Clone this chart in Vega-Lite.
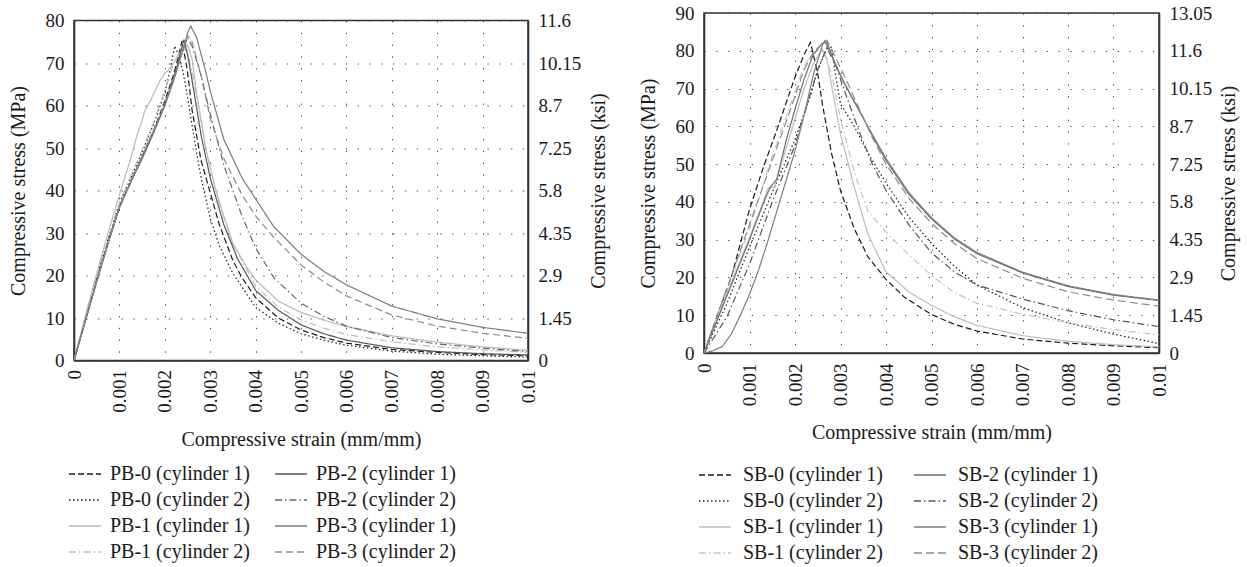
{
  "$schema": "https://vega.github.io/schema/vega-lite/v6.json",
  "background": "white",
  "padding": {"left": 7, "top": 3, "right": 2, "bottom": 2},
  "config": {
    "font": "Liberation Serif",
    "view": {"stroke": "#333333", "strokeWidth": 1.5},
    "axis": {
      "labelFont": "Liberation Serif", "titleFont": "Liberation Serif",
      "labelFontSize": 19, "titleFontSize": 20, "titleFontWeight": "normal",
      "labelColor": "#1a1a1a", "titleColor": "#1a1a1a",
      "domainColor": "#333333", "domainWidth": 1.6, "ticks": false,
      "gridColor": "#444444", "gridDash": [1.3, 10.5], "gridWidth": 1, "gridOpacity": 1,
      "labelPadding": 10
    },
    "legend": {
      "labelFont": "Liberation Serif", "labelFontSize": 20, "labelColor": "#1a1a1a", "labelLimit": 400
    }
  },
  "spacing": 27,
  "resolve": {"scale": {"color": "independent", "strokeDash": "independent"}, "legend": {"color": "independent", "strokeDash": "independent"}},
  "datasets": {
    "pb": [
      {"series":"PB-0 (cylinder 1)","strain":0,"stress":0},{"series":"PB-0 (cylinder 1)","strain":0.00025,"stress":9.5},{"series":"PB-0 (cylinder 1)","strain":0.0005,"stress":19},{"series":"PB-0 (cylinder 1)","strain":0.00075,"stress":28},{"series":"PB-0 (cylinder 1)","strain":0.001,"stress":36},{"series":"PB-0 (cylinder 1)","strain":0.00125,"stress":42},{"series":"PB-0 (cylinder 1)","strain":0.0015,"stress":48},{"series":"PB-0 (cylinder 1)","strain":0.00175,"stress":54},{"series":"PB-0 (cylinder 1)","strain":0.002,"stress":61},{"series":"PB-0 (cylinder 1)","strain":0.0022,"stress":67.5},{"series":"PB-0 (cylinder 1)","strain":0.0023,"stress":71.5},{"series":"PB-0 (cylinder 1)","strain":0.00238,"stress":75.2},{"series":"PB-0 (cylinder 1)","strain":0.0025,"stress":68},{"series":"PB-0 (cylinder 1)","strain":0.0026,"stress":59},{"series":"PB-0 (cylinder 1)","strain":0.0028,"stress":47},{"series":"PB-0 (cylinder 1)","strain":0.003,"stress":39.5},{"series":"PB-0 (cylinder 1)","strain":0.0032,"stress":32},{"series":"PB-0 (cylinder 1)","strain":0.0035,"stress":23.5},{"series":"PB-0 (cylinder 1)","strain":0.0037,"stress":19.5},{"series":"PB-0 (cylinder 1)","strain":0.004,"stress":14.8},{"series":"PB-0 (cylinder 1)","strain":0.0045,"stress":10},{"series":"PB-0 (cylinder 1)","strain":0.005,"stress":7.2},{"series":"PB-0 (cylinder 1)","strain":0.0055,"stress":5.4},{"series":"PB-0 (cylinder 1)","strain":0.006,"stress":4.1},{"series":"PB-0 (cylinder 1)","strain":0.007,"stress":2.6},{"series":"PB-0 (cylinder 1)","strain":0.008,"stress":1.9},{"series":"PB-0 (cylinder 1)","strain":0.009,"stress":1.4},{"series":"PB-0 (cylinder 1)","strain":0.01,"stress":1.1},
      {"series":"PB-0 (cylinder 2)","strain":0,"stress":0},{"series":"PB-0 (cylinder 2)","strain":0.00025,"stress":9.8},{"series":"PB-0 (cylinder 2)","strain":0.0005,"stress":19.5},{"series":"PB-0 (cylinder 2)","strain":0.00075,"stress":28.5},{"series":"PB-0 (cylinder 2)","strain":0.001,"stress":37},{"series":"PB-0 (cylinder 2)","strain":0.00125,"stress":43},{"series":"PB-0 (cylinder 2)","strain":0.0015,"stress":49},{"series":"PB-0 (cylinder 2)","strain":0.00175,"stress":55.5},{"series":"PB-0 (cylinder 2)","strain":0.002,"stress":63},{"series":"PB-0 (cylinder 2)","strain":0.0021,"stress":67.5},{"series":"PB-0 (cylinder 2)","strain":0.00222,"stress":74},{"series":"PB-0 (cylinder 2)","strain":0.0023,"stress":72},{"series":"PB-0 (cylinder 2)","strain":0.0024,"stress":68},{"series":"PB-0 (cylinder 2)","strain":0.0025,"stress":62},{"series":"PB-0 (cylinder 2)","strain":0.0027,"stress":49},{"series":"PB-0 (cylinder 2)","strain":0.0028,"stress":43},{"series":"PB-0 (cylinder 2)","strain":0.003,"stress":33.5},{"series":"PB-0 (cylinder 2)","strain":0.0032,"stress":27},{"series":"PB-0 (cylinder 2)","strain":0.0035,"stress":20.5},{"series":"PB-0 (cylinder 2)","strain":0.004,"stress":12.5},{"series":"PB-0 (cylinder 2)","strain":0.0045,"stress":8.8},{"series":"PB-0 (cylinder 2)","strain":0.005,"stress":6.3},{"series":"PB-0 (cylinder 2)","strain":0.0055,"stress":4.8},{"series":"PB-0 (cylinder 2)","strain":0.006,"stress":3.6},{"series":"PB-0 (cylinder 2)","strain":0.007,"stress":2.2},{"series":"PB-0 (cylinder 2)","strain":0.008,"stress":1.5},{"series":"PB-0 (cylinder 2)","strain":0.009,"stress":1.1},{"series":"PB-0 (cylinder 2)","strain":0.01,"stress":0.8},
      {"series":"PB-1 (cylinder 1)","strain":0,"stress":0},{"series":"PB-1 (cylinder 1)","strain":0.00025,"stress":10.5},{"series":"PB-1 (cylinder 1)","strain":0.0005,"stress":20.5},{"series":"PB-1 (cylinder 1)","strain":0.00075,"stress":30},{"series":"PB-1 (cylinder 1)","strain":0.001,"stress":39},{"series":"PB-1 (cylinder 1)","strain":0.00125,"stress":47.5},{"series":"PB-1 (cylinder 1)","strain":0.0014,"stress":53.5},{"series":"PB-1 (cylinder 1)","strain":0.0015,"stress":56.5},{"series":"PB-1 (cylinder 1)","strain":0.00155,"stress":58.5},{"series":"PB-1 (cylinder 1)","strain":0.0017,"stress":61.5},{"series":"PB-1 (cylinder 1)","strain":0.0019,"stress":66},{"series":"PB-1 (cylinder 1)","strain":0.002,"stress":67.6},{"series":"PB-1 (cylinder 1)","strain":0.0021,"stress":68.5},{"series":"PB-1 (cylinder 1)","strain":0.0022,"stress":70.2},{"series":"PB-1 (cylinder 1)","strain":0.0024,"stress":73.5},{"series":"PB-1 (cylinder 1)","strain":0.0025,"stress":74.3},{"series":"PB-1 (cylinder 1)","strain":0.0026,"stress":71},{"series":"PB-1 (cylinder 1)","strain":0.0027,"stress":63},{"series":"PB-1 (cylinder 1)","strain":0.0029,"stress":50},{"series":"PB-1 (cylinder 1)","strain":0.0031,"stress":41},{"series":"PB-1 (cylinder 1)","strain":0.0033,"stress":34},{"series":"PB-1 (cylinder 1)","strain":0.0035,"stress":27.5},{"series":"PB-1 (cylinder 1)","strain":0.0038,"stress":22},{"series":"PB-1 (cylinder 1)","strain":0.004,"stress":19},{"series":"PB-1 (cylinder 1)","strain":0.0045,"stress":14},{"series":"PB-1 (cylinder 1)","strain":0.005,"stress":11.3},{"series":"PB-1 (cylinder 1)","strain":0.0055,"stress":9.5},{"series":"PB-1 (cylinder 1)","strain":0.006,"stress":8},{"series":"PB-1 (cylinder 1)","strain":0.007,"stress":5.8},{"series":"PB-1 (cylinder 1)","strain":0.008,"stress":4.3},{"series":"PB-1 (cylinder 1)","strain":0.009,"stress":3.2},{"series":"PB-1 (cylinder 1)","strain":0.01,"stress":2.4},
      {"series":"PB-1 (cylinder 2)","strain":0,"stress":0},{"series":"PB-1 (cylinder 2)","strain":0.00025,"stress":9.6},{"series":"PB-1 (cylinder 2)","strain":0.0005,"stress":19.3},{"series":"PB-1 (cylinder 2)","strain":0.00075,"stress":28.5},{"series":"PB-1 (cylinder 2)","strain":0.001,"stress":37},{"series":"PB-1 (cylinder 2)","strain":0.00125,"stress":43.5},{"series":"PB-1 (cylinder 2)","strain":0.0015,"stress":49.5},{"series":"PB-1 (cylinder 2)","strain":0.00175,"stress":56},{"series":"PB-1 (cylinder 2)","strain":0.002,"stress":63.5},{"series":"PB-1 (cylinder 2)","strain":0.0022,"stress":70},{"series":"PB-1 (cylinder 2)","strain":0.0024,"stress":74},{"series":"PB-1 (cylinder 2)","strain":0.0025,"stress":72.5},{"series":"PB-1 (cylinder 2)","strain":0.0026,"stress":68},{"series":"PB-1 (cylinder 2)","strain":0.0028,"stress":56},{"series":"PB-1 (cylinder 2)","strain":0.003,"stress":45},{"series":"PB-1 (cylinder 2)","strain":0.0032,"stress":37},{"series":"PB-1 (cylinder 2)","strain":0.0035,"stress":27.5},{"series":"PB-1 (cylinder 2)","strain":0.004,"stress":17.5},{"series":"PB-1 (cylinder 2)","strain":0.0045,"stress":12.6},{"series":"PB-1 (cylinder 2)","strain":0.005,"stress":9.6},{"series":"PB-1 (cylinder 2)","strain":0.0055,"stress":7.6},{"series":"PB-1 (cylinder 2)","strain":0.006,"stress":6.1},{"series":"PB-1 (cylinder 2)","strain":0.007,"stress":4.4},{"series":"PB-1 (cylinder 2)","strain":0.008,"stress":3.2},{"series":"PB-1 (cylinder 2)","strain":0.009,"stress":2.5},{"series":"PB-1 (cylinder 2)","strain":0.01,"stress":1.9},
      {"series":"PB-2 (cylinder 1)","strain":0,"stress":0},{"series":"PB-2 (cylinder 1)","strain":0.00025,"stress":9.3},{"series":"PB-2 (cylinder 1)","strain":0.0005,"stress":18.5},{"series":"PB-2 (cylinder 1)","strain":0.00075,"stress":27.5},{"series":"PB-2 (cylinder 1)","strain":0.001,"stress":36},{"series":"PB-2 (cylinder 1)","strain":0.00125,"stress":42},{"series":"PB-2 (cylinder 1)","strain":0.0015,"stress":47.5},{"series":"PB-2 (cylinder 1)","strain":0.00175,"stress":53.5},{"series":"PB-2 (cylinder 1)","strain":0.002,"stress":60},{"series":"PB-2 (cylinder 1)","strain":0.0022,"stress":66.5},{"series":"PB-2 (cylinder 1)","strain":0.0023,"stress":70.5},{"series":"PB-2 (cylinder 1)","strain":0.00242,"stress":75.5},{"series":"PB-2 (cylinder 1)","strain":0.0025,"stress":72},{"series":"PB-2 (cylinder 1)","strain":0.0026,"stress":66},{"series":"PB-2 (cylinder 1)","strain":0.0028,"stress":53},{"series":"PB-2 (cylinder 1)","strain":0.003,"stress":43},{"series":"PB-2 (cylinder 1)","strain":0.0033,"stress":32},{"series":"PB-2 (cylinder 1)","strain":0.0036,"stress":24},{"series":"PB-2 (cylinder 1)","strain":0.004,"stress":16.5},{"series":"PB-2 (cylinder 1)","strain":0.0045,"stress":11.8},{"series":"PB-2 (cylinder 1)","strain":0.005,"stress":8.4},{"series":"PB-2 (cylinder 1)","strain":0.0055,"stress":6.3},{"series":"PB-2 (cylinder 1)","strain":0.006,"stress":4.8},{"series":"PB-2 (cylinder 1)","strain":0.007,"stress":3.0},{"series":"PB-2 (cylinder 1)","strain":0.008,"stress":2.1},{"series":"PB-2 (cylinder 1)","strain":0.009,"stress":1.6},{"series":"PB-2 (cylinder 1)","strain":0.01,"stress":1.3},
      {"series":"PB-2 (cylinder 2)","strain":0,"stress":0},{"series":"PB-2 (cylinder 2)","strain":0.00025,"stress":9.4},{"series":"PB-2 (cylinder 2)","strain":0.0005,"stress":18.8},{"series":"PB-2 (cylinder 2)","strain":0.00075,"stress":27.8},{"series":"PB-2 (cylinder 2)","strain":0.001,"stress":36.2},{"series":"PB-2 (cylinder 2)","strain":0.00125,"stress":42.3},{"series":"PB-2 (cylinder 2)","strain":0.0015,"stress":48},{"series":"PB-2 (cylinder 2)","strain":0.00175,"stress":54},{"series":"PB-2 (cylinder 2)","strain":0.002,"stress":60.5},{"series":"PB-2 (cylinder 2)","strain":0.0022,"stress":67},{"series":"PB-2 (cylinder 2)","strain":0.0024,"stress":73},{"series":"PB-2 (cylinder 2)","strain":0.0025,"stress":76},{"series":"PB-2 (cylinder 2)","strain":0.0026,"stress":74},{"series":"PB-2 (cylinder 2)","strain":0.0028,"stress":67},{"series":"PB-2 (cylinder 2)","strain":0.003,"stress":58},{"series":"PB-2 (cylinder 2)","strain":0.0033,"stress":46},{"series":"PB-2 (cylinder 2)","strain":0.0037,"stress":34},{"series":"PB-2 (cylinder 2)","strain":0.004,"stress":26.5},{"series":"PB-2 (cylinder 2)","strain":0.0044,"stress":19.5},{"series":"PB-2 (cylinder 2)","strain":0.005,"stress":13.5},{"series":"PB-2 (cylinder 2)","strain":0.0055,"stress":10.4},{"series":"PB-2 (cylinder 2)","strain":0.006,"stress":8.1},{"series":"PB-2 (cylinder 2)","strain":0.007,"stress":5.4},{"series":"PB-2 (cylinder 2)","strain":0.008,"stress":3.9},{"series":"PB-2 (cylinder 2)","strain":0.009,"stress":2.9},{"series":"PB-2 (cylinder 2)","strain":0.01,"stress":2.1},
      {"series":"PB-3 (cylinder 1)","strain":0,"stress":0},{"series":"PB-3 (cylinder 1)","strain":0.00025,"stress":9.3},{"series":"PB-3 (cylinder 1)","strain":0.0005,"stress":18.6},{"series":"PB-3 (cylinder 1)","strain":0.00075,"stress":27.6},{"series":"PB-3 (cylinder 1)","strain":0.001,"stress":36},{"series":"PB-3 (cylinder 1)","strain":0.00125,"stress":42},{"series":"PB-3 (cylinder 1)","strain":0.0015,"stress":47.8},{"series":"PB-3 (cylinder 1)","strain":0.00175,"stress":53.8},{"series":"PB-3 (cylinder 1)","strain":0.002,"stress":60},{"series":"PB-3 (cylinder 1)","strain":0.0022,"stress":66},{"series":"PB-3 (cylinder 1)","strain":0.0024,"stress":73},{"series":"PB-3 (cylinder 1)","strain":0.0025,"stress":77},{"series":"PB-3 (cylinder 1)","strain":0.00257,"stress":78.7},{"series":"PB-3 (cylinder 1)","strain":0.0027,"stress":76},{"series":"PB-3 (cylinder 1)","strain":0.0029,"stress":68},{"series":"PB-3 (cylinder 1)","strain":0.003,"stress":63.5},{"series":"PB-3 (cylinder 1)","strain":0.0033,"stress":52},{"series":"PB-3 (cylinder 1)","strain":0.0037,"stress":43},{"series":"PB-3 (cylinder 1)","strain":0.004,"stress":38},{"series":"PB-3 (cylinder 1)","strain":0.0044,"stress":31.5},{"series":"PB-3 (cylinder 1)","strain":0.005,"stress":25},{"series":"PB-3 (cylinder 1)","strain":0.0055,"stress":21},{"series":"PB-3 (cylinder 1)","strain":0.006,"stress":17.8},{"series":"PB-3 (cylinder 1)","strain":0.007,"stress":12.8},{"series":"PB-3 (cylinder 1)","strain":0.008,"stress":9.8},{"series":"PB-3 (cylinder 1)","strain":0.009,"stress":7.8},{"series":"PB-3 (cylinder 1)","strain":0.01,"stress":6.4},
      {"series":"PB-3 (cylinder 2)","strain":0,"stress":0},{"series":"PB-3 (cylinder 2)","strain":0.00025,"stress":9.4},{"series":"PB-3 (cylinder 2)","strain":0.0005,"stress":18.7},{"series":"PB-3 (cylinder 2)","strain":0.00075,"stress":27.7},{"series":"PB-3 (cylinder 2)","strain":0.001,"stress":36.1},{"series":"PB-3 (cylinder 2)","strain":0.00125,"stress":42.2},{"series":"PB-3 (cylinder 2)","strain":0.0015,"stress":48},{"series":"PB-3 (cylinder 2)","strain":0.00175,"stress":54},{"series":"PB-3 (cylinder 2)","strain":0.002,"stress":60.3},{"series":"PB-3 (cylinder 2)","strain":0.0022,"stress":66.5},{"series":"PB-3 (cylinder 2)","strain":0.0024,"stress":73},{"series":"PB-3 (cylinder 2)","strain":0.0025,"stress":76.5},{"series":"PB-3 (cylinder 2)","strain":0.0026,"stress":75},{"series":"PB-3 (cylinder 2)","strain":0.0028,"stress":67},{"series":"PB-3 (cylinder 2)","strain":0.003,"stress":57},{"series":"PB-3 (cylinder 2)","strain":0.0033,"stress":47.5},{"series":"PB-3 (cylinder 2)","strain":0.0037,"stress":39},{"series":"PB-3 (cylinder 2)","strain":0.004,"stress":34},{"series":"PB-3 (cylinder 2)","strain":0.0044,"stress":29},{"series":"PB-3 (cylinder 2)","strain":0.005,"stress":22.5},{"series":"PB-3 (cylinder 2)","strain":0.0055,"stress":18.5},{"series":"PB-3 (cylinder 2)","strain":0.006,"stress":15.2},{"series":"PB-3 (cylinder 2)","strain":0.007,"stress":10.7},{"series":"PB-3 (cylinder 2)","strain":0.008,"stress":8.1},{"series":"PB-3 (cylinder 2)","strain":0.009,"stress":6.4},{"series":"PB-3 (cylinder 2)","strain":0.01,"stress":5.2}
    ],
    "sb": [
      {"series":"SB-0 (cylinder 1)","strain":0,"stress":0},{"series":"SB-0 (cylinder 1)","strain":0.0003,"stress":10.2},{"series":"SB-0 (cylinder 1)","strain":0.0006,"stress":20},{"series":"SB-0 (cylinder 1)","strain":0.0008,"stress":29},{"series":"SB-0 (cylinder 1)","strain":0.001,"stress":38},{"series":"SB-0 (cylinder 1)","strain":0.0013,"stress":49},{"series":"SB-0 (cylinder 1)","strain":0.0016,"stress":59},{"series":"SB-0 (cylinder 1)","strain":0.0018,"stress":66},{"series":"SB-0 (cylinder 1)","strain":0.002,"stress":73},{"series":"SB-0 (cylinder 1)","strain":0.0022,"stress":79},{"series":"SB-0 (cylinder 1)","strain":0.00234,"stress":82.2},{"series":"SB-0 (cylinder 1)","strain":0.0025,"stress":74},{"series":"SB-0 (cylinder 1)","strain":0.0026,"stress":66},{"series":"SB-0 (cylinder 1)","strain":0.0028,"stress":53},{"series":"SB-0 (cylinder 1)","strain":0.003,"stress":43},{"series":"SB-0 (cylinder 1)","strain":0.0033,"stress":33},{"series":"SB-0 (cylinder 1)","strain":0.0036,"stress":25.5},{"series":"SB-0 (cylinder 1)","strain":0.004,"stress":19.5},{"series":"SB-0 (cylinder 1)","strain":0.0044,"stress":14.8},{"series":"SB-0 (cylinder 1)","strain":0.005,"stress":10.2},{"series":"SB-0 (cylinder 1)","strain":0.0055,"stress":7.6},{"series":"SB-0 (cylinder 1)","strain":0.006,"stress":5.8},{"series":"SB-0 (cylinder 1)","strain":0.007,"stress":3.7},{"series":"SB-0 (cylinder 1)","strain":0.008,"stress":2.6},{"series":"SB-0 (cylinder 1)","strain":0.009,"stress":1.9},{"series":"SB-0 (cylinder 1)","strain":0.01,"stress":1.4},
      {"series":"SB-0 (cylinder 2)","strain":0,"stress":0},{"series":"SB-0 (cylinder 2)","strain":0.0005,"stress":13},{"series":"SB-0 (cylinder 2)","strain":0.001,"stress":28},{"series":"SB-0 (cylinder 2)","strain":0.0015,"stress":42.5},{"series":"SB-0 (cylinder 2)","strain":0.002,"stress":56.5},{"series":"SB-0 (cylinder 2)","strain":0.00235,"stress":68.5},{"series":"SB-0 (cylinder 2)","strain":0.0025,"stress":75},{"series":"SB-0 (cylinder 2)","strain":0.0027,"stress":80.5},{"series":"SB-0 (cylinder 2)","strain":0.0028,"stress":81},{"series":"SB-0 (cylinder 2)","strain":0.0029,"stress":73},{"series":"SB-0 (cylinder 2)","strain":0.003,"stress":66},{"series":"SB-0 (cylinder 2)","strain":0.0033,"stress":60},{"series":"SB-0 (cylinder 2)","strain":0.0036,"stress":53},{"series":"SB-0 (cylinder 2)","strain":0.004,"stress":45},{"series":"SB-0 (cylinder 2)","strain":0.0045,"stress":36},{"series":"SB-0 (cylinder 2)","strain":0.005,"stress":29},{"series":"SB-0 (cylinder 2)","strain":0.0055,"stress":23},{"series":"SB-0 (cylinder 2)","strain":0.006,"stress":18},{"series":"SB-0 (cylinder 2)","strain":0.007,"stress":12},{"series":"SB-0 (cylinder 2)","strain":0.008,"stress":8},{"series":"SB-0 (cylinder 2)","strain":0.009,"stress":5},{"series":"SB-0 (cylinder 2)","strain":0.01,"stress":2.5},
      {"series":"SB-1 (cylinder 1)","strain":0,"stress":0},{"series":"SB-1 (cylinder 1)","strain":0.0005,"stress":15.5},{"series":"SB-1 (cylinder 1)","strain":0.001,"stress":30.5},{"series":"SB-1 (cylinder 1)","strain":0.0013,"stress":40},{"series":"SB-1 (cylinder 1)","strain":0.0014,"stress":43.5},{"series":"SB-1 (cylinder 1)","strain":0.00155,"stress":44},{"series":"SB-1 (cylinder 1)","strain":0.0017,"stress":50},{"series":"SB-1 (cylinder 1)","strain":0.002,"stress":62},{"series":"SB-1 (cylinder 1)","strain":0.0022,"stress":70},{"series":"SB-1 (cylinder 1)","strain":0.0024,"stress":76.5},{"series":"SB-1 (cylinder 1)","strain":0.0026,"stress":80.5},{"series":"SB-1 (cylinder 1)","strain":0.0027,"stress":78},{"series":"SB-1 (cylinder 1)","strain":0.0028,"stress":71},{"series":"SB-1 (cylinder 1)","strain":0.003,"stress":58},{"series":"SB-1 (cylinder 1)","strain":0.0033,"stress":44},{"series":"SB-1 (cylinder 1)","strain":0.0036,"stress":31.5},{"series":"SB-1 (cylinder 1)","strain":0.004,"stress":21.5},{"series":"SB-1 (cylinder 1)","strain":0.0045,"stress":16.2},{"series":"SB-1 (cylinder 1)","strain":0.005,"stress":12.6},{"series":"SB-1 (cylinder 1)","strain":0.0055,"stress":9.6},{"series":"SB-1 (cylinder 1)","strain":0.006,"stress":7.3},{"series":"SB-1 (cylinder 1)","strain":0.007,"stress":4.6},{"series":"SB-1 (cylinder 1)","strain":0.008,"stress":3.1},{"series":"SB-1 (cylinder 1)","strain":0.009,"stress":2.2},{"series":"SB-1 (cylinder 1)","strain":0.01,"stress":1.6},
      {"series":"SB-1 (cylinder 2)","strain":0,"stress":0},{"series":"SB-1 (cylinder 2)","strain":0.0005,"stress":16.5},{"series":"SB-1 (cylinder 2)","strain":0.001,"stress":33},{"series":"SB-1 (cylinder 2)","strain":0.0015,"stress":52},{"series":"SB-1 (cylinder 2)","strain":0.0017,"stress":59},{"series":"SB-1 (cylinder 2)","strain":0.002,"stress":69},{"series":"SB-1 (cylinder 2)","strain":0.0022,"stress":76},{"series":"SB-1 (cylinder 2)","strain":0.0024,"stress":79.5},{"series":"SB-1 (cylinder 2)","strain":0.0026,"stress":80.5},{"series":"SB-1 (cylinder 2)","strain":0.0028,"stress":74},{"series":"SB-1 (cylinder 2)","strain":0.003,"stress":62},{"series":"SB-1 (cylinder 2)","strain":0.0033,"stress":48},{"series":"SB-1 (cylinder 2)","strain":0.0036,"stress":37.5},{"series":"SB-1 (cylinder 2)","strain":0.004,"stress":32},{"series":"SB-1 (cylinder 2)","strain":0.0045,"stress":26},{"series":"SB-1 (cylinder 2)","strain":0.005,"stress":20.5},{"series":"SB-1 (cylinder 2)","strain":0.0055,"stress":16},{"series":"SB-1 (cylinder 2)","strain":0.006,"stress":13.2},{"series":"SB-1 (cylinder 2)","strain":0.007,"stress":10.3},{"series":"SB-1 (cylinder 2)","strain":0.008,"stress":8},{"series":"SB-1 (cylinder 2)","strain":0.009,"stress":6.2},{"series":"SB-1 (cylinder 2)","strain":0.01,"stress":4.8},
      {"series":"SB-2 (cylinder 1)","strain":0,"stress":0},{"series":"SB-2 (cylinder 1)","strain":0.0005,"stress":15},{"series":"SB-2 (cylinder 1)","strain":0.001,"stress":30},{"series":"SB-2 (cylinder 1)","strain":0.0013,"stress":39.5},{"series":"SB-2 (cylinder 1)","strain":0.00145,"stress":43.8},{"series":"SB-2 (cylinder 1)","strain":0.0016,"stress":46},{"series":"SB-2 (cylinder 1)","strain":0.0018,"stress":56},{"series":"SB-2 (cylinder 1)","strain":0.002,"stress":64.5},{"series":"SB-2 (cylinder 1)","strain":0.0022,"stress":72.5},{"series":"SB-2 (cylinder 1)","strain":0.0024,"stress":79},{"series":"SB-2 (cylinder 1)","strain":0.0026,"stress":82},{"series":"SB-2 (cylinder 1)","strain":0.0027,"stress":82.3},{"series":"SB-2 (cylinder 1)","strain":0.0029,"stress":76},{"series":"SB-2 (cylinder 1)","strain":0.0031,"stress":71},{"series":"SB-2 (cylinder 1)","strain":0.0034,"stress":64.5},{"series":"SB-2 (cylinder 1)","strain":0.0037,"stress":57.5},{"series":"SB-2 (cylinder 1)","strain":0.004,"stress":51},{"series":"SB-2 (cylinder 1)","strain":0.0045,"stress":42},{"series":"SB-2 (cylinder 1)","strain":0.005,"stress":35.5},{"series":"SB-2 (cylinder 1)","strain":0.0055,"stress":30.2},{"series":"SB-2 (cylinder 1)","strain":0.006,"stress":26.3},{"series":"SB-2 (cylinder 1)","strain":0.007,"stress":21.2},{"series":"SB-2 (cylinder 1)","strain":0.008,"stress":17.6},{"series":"SB-2 (cylinder 1)","strain":0.009,"stress":15.3},{"series":"SB-2 (cylinder 1)","strain":0.01,"stress":13.9},
      {"series":"SB-2 (cylinder 2)","strain":0,"stress":0},{"series":"SB-2 (cylinder 2)","strain":0.0005,"stress":9.5},{"series":"SB-2 (cylinder 2)","strain":0.001,"stress":23.5},{"series":"SB-2 (cylinder 2)","strain":0.0015,"stress":40},{"series":"SB-2 (cylinder 2)","strain":0.002,"stress":55},{"series":"SB-2 (cylinder 2)","strain":0.0023,"stress":67},{"series":"SB-2 (cylinder 2)","strain":0.0025,"stress":75},{"series":"SB-2 (cylinder 2)","strain":0.0027,"stress":80.8},{"series":"SB-2 (cylinder 2)","strain":0.0029,"stress":76},{"series":"SB-2 (cylinder 2)","strain":0.0031,"stress":69},{"series":"SB-2 (cylinder 2)","strain":0.0034,"stress":59},{"series":"SB-2 (cylinder 2)","strain":0.0037,"stress":50},{"series":"SB-2 (cylinder 2)","strain":0.004,"stress":43},{"series":"SB-2 (cylinder 2)","strain":0.0045,"stress":34},{"series":"SB-2 (cylinder 2)","strain":0.005,"stress":26.5},{"series":"SB-2 (cylinder 2)","strain":0.0055,"stress":21.5},{"series":"SB-2 (cylinder 2)","strain":0.006,"stress":18},{"series":"SB-2 (cylinder 2)","strain":0.007,"stress":14.3},{"series":"SB-2 (cylinder 2)","strain":0.008,"stress":11.2},{"series":"SB-2 (cylinder 2)","strain":0.009,"stress":8.8},{"series":"SB-2 (cylinder 2)","strain":0.01,"stress":7.0},
      {"series":"SB-3 (cylinder 1)","strain":0,"stress":0},{"series":"SB-3 (cylinder 1)","strain":0.0002,"stress":0.6},{"series":"SB-3 (cylinder 1)","strain":0.0004,"stress":1.7},{"series":"SB-3 (cylinder 1)","strain":0.0006,"stress":5},{"series":"SB-3 (cylinder 1)","strain":0.0008,"stress":10},{"series":"SB-3 (cylinder 1)","strain":0.001,"stress":15.5},{"series":"SB-3 (cylinder 1)","strain":0.0012,"stress":22},{"series":"SB-3 (cylinder 1)","strain":0.0014,"stress":29.5},{"series":"SB-3 (cylinder 1)","strain":0.0016,"stress":37.5},{"series":"SB-3 (cylinder 1)","strain":0.0018,"stress":45.5},{"series":"SB-3 (cylinder 1)","strain":0.002,"stress":53.5},{"series":"SB-3 (cylinder 1)","strain":0.0022,"stress":63},{"series":"SB-3 (cylinder 1)","strain":0.0024,"stress":73.5},{"series":"SB-3 (cylinder 1)","strain":0.0026,"stress":81.5},{"series":"SB-3 (cylinder 1)","strain":0.00265,"stress":82.6},{"series":"SB-3 (cylinder 1)","strain":0.0028,"stress":79},{"series":"SB-3 (cylinder 1)","strain":0.003,"stress":73.5},{"series":"SB-3 (cylinder 1)","strain":0.0033,"stress":66.5},{"series":"SB-3 (cylinder 1)","strain":0.0036,"stress":60},{"series":"SB-3 (cylinder 1)","strain":0.004,"stress":51.5},{"series":"SB-3 (cylinder 1)","strain":0.0045,"stress":42.5},{"series":"SB-3 (cylinder 1)","strain":0.005,"stress":35.8},{"series":"SB-3 (cylinder 1)","strain":0.0055,"stress":30.5},{"series":"SB-3 (cylinder 1)","strain":0.006,"stress":26.6},{"series":"SB-3 (cylinder 1)","strain":0.007,"stress":21.4},{"series":"SB-3 (cylinder 1)","strain":0.008,"stress":17.8},{"series":"SB-3 (cylinder 1)","strain":0.009,"stress":15.5},{"series":"SB-3 (cylinder 1)","strain":0.01,"stress":14},
      {"series":"SB-3 (cylinder 2)","strain":0,"stress":0},{"series":"SB-3 (cylinder 2)","strain":0.0005,"stress":17},{"series":"SB-3 (cylinder 2)","strain":0.001,"stress":34},{"series":"SB-3 (cylinder 2)","strain":0.0015,"stress":51},{"series":"SB-3 (cylinder 2)","strain":0.0018,"stress":61},{"series":"SB-3 (cylinder 2)","strain":0.002,"stress":68},{"series":"SB-3 (cylinder 2)","strain":0.0022,"stress":75},{"series":"SB-3 (cylinder 2)","strain":0.0024,"stress":79.5},{"series":"SB-3 (cylinder 2)","strain":0.0026,"stress":82},{"series":"SB-3 (cylinder 2)","strain":0.0027,"stress":82.8},{"series":"SB-3 (cylinder 2)","strain":0.0029,"stress":78},{"series":"SB-3 (cylinder 2)","strain":0.0031,"stress":73},{"series":"SB-3 (cylinder 2)","strain":0.0034,"stress":65},{"series":"SB-3 (cylinder 2)","strain":0.0037,"stress":57},{"series":"SB-3 (cylinder 2)","strain":0.004,"stress":50},{"series":"SB-3 (cylinder 2)","strain":0.0045,"stress":41},{"series":"SB-3 (cylinder 2)","strain":0.005,"stress":34.3},{"series":"SB-3 (cylinder 2)","strain":0.0055,"stress":29},{"series":"SB-3 (cylinder 2)","strain":0.006,"stress":25},{"series":"SB-3 (cylinder 2)","strain":0.007,"stress":19.8},{"series":"SB-3 (cylinder 2)","strain":0.008,"stress":16.2},{"series":"SB-3 (cylinder 2)","strain":0.009,"stress":14},{"series":"SB-3 (cylinder 2)","strain":0.01,"stress":12.4}
    ]
  },
  "hconcat": [
    {
      "spacing": -3.5,
      "vconcat": [
        {
          "width": 454, "height": 1,
          "view": {"stroke": null},
          "data": {"values": []},
          "mark": {"type": "point"}
        },
        {
          "width": 454, "height": 340,
          "data": {"name": "pb"},
          "encoding": {
            "x": {"field": "strain", "type": "quantitative", "title": "Compressive strain (mm/mm)",
              "scale": {"domain": [0, 0.01], "nice": false, "zero": true},
              "axis": {"values": [0, 0.001, 0.002, 0.003, 0.004, 0.005, 0.006, 0.007, 0.008, 0.009, 0.01], "format": "~g", "labelAngle": -90, "labelPadding": 9, "titlePadding": 17, "grid": true, "labelFlush": false, "labelOverlap": false}}
          },
          "layer": [
            {
              "mark": {"type": "line", "strokeWidth": 1.2, "clip": true},
              "encoding": {
                "y": {"field": "stress", "type": "quantitative", "title": "Compressive stress (MPa)",
                  "scale": {"domain": [0, 80], "nice": false},
                  "axis": {"values": [0, 10, 20, 30, 40, 50, 60, 70, 80], "grid": true, "titlePadding": 17}},
                "color": {"field": "series", "type": "nominal",
                  "scale": {"domain": ["PB-0 (cylinder 1)", "PB-2 (cylinder 1)", "PB-0 (cylinder 2)", "PB-2 (cylinder 2)", "PB-1 (cylinder 1)", "PB-3 (cylinder 1)", "PB-1 (cylinder 2)", "PB-3 (cylinder 2)"],
                    "range": ["#1a1a1a", "#555555", "#1a1a1a", "#666666", "#b8b8b8", "#7a7a7a", "#bdbdbd", "#8a8a8a"]},
                  "legend": {"orient": "bottom", "columns": 2, "title": null, "symbolType": "M-3,0H3.4", "symbolSize": 100, "symbolStrokeWidth": 1.3, "labelOffset": 16, "columnPadding": 22, "rowPadding": 6, "offset": 14,
                    "encode": {"symbols": {"update": {"strokeDash": {"signal": "indexof(datum.value, 'cylinder 2') >= 0 ? (indexof(datum.value, '-0 ') >= 0 ? [1.5, 2.5] : (indexof(datum.value, '-3 ') >= 0 ? [1, 0] : [7, 3, 1.5, 3])) : [1, 0]"}}}}}},
                "strokeDash": {"field": "series", "type": "nominal",
                  "scale": {"domain": ["PB-0 (cylinder 1)", "PB-2 (cylinder 1)", "PB-0 (cylinder 2)", "PB-2 (cylinder 2)", "PB-1 (cylinder 1)", "PB-3 (cylinder 1)", "PB-1 (cylinder 2)", "PB-3 (cylinder 2)"],
                    "range": [[6, 3], [1, 0], [1.5, 2.5], [7, 3, 1.5, 3], [1, 0], [1, 0], [7, 3, 1.5, 3], [7, 4]]},
                  "legend": null}
              }
            },
            {
              "mark": {"type": "line", "opacity": 0},
              "encoding": {
                "y": {"field": "stress", "type": "quantitative", "title": "Compressive stress (ksi)",
                  "scale": {"domain": [0, 80], "nice": false},
                  "axis": {"orient": "right", "values": [0, 10, 20, 30, 40, 50, 60, 70, 80], "grid": false, "titlePadding": 8, "titleAngle": 270, "titleBaseline": "top", "labelExpr": "format(datum.value * 0.145, '.2~f')"}},
                "detail": {"field": "series"}
              }
            }
          ],
          "resolve": {"scale": {"y": "independent"}}
        }
      ]
    },
    {
      "width": 455, "height": 340,
      "data": {"name": "sb"},
      "encoding": {
        "x": {"field": "strain", "type": "quantitative", "title": "Compressive strain (mm/mm)",
          "scale": {"domain": [0, 0.01], "nice": false, "zero": true},
          "axis": {"values": [0, 0.001, 0.002, 0.003, 0.004, 0.005, 0.006, 0.007, 0.008, 0.009, 0.01], "format": "~g", "labelAngle": -90, "labelPadding": 10, "titlePadding": 17, "grid": true, "labelFlush": false, "labelOverlap": false}}
      },
      "layer": [
        {
          "mark": {"type": "line", "strokeWidth": 1.2, "clip": true},
          "encoding": {
            "y": {"field": "stress", "type": "quantitative", "title": "Compressive stress (MPa)",
              "scale": {"domain": [0, 90], "nice": false},
              "axis": {"values": [0, 10, 20, 30, 40, 50, 60, 70, 80, 90], "grid": true, "titlePadding": 17}},
            "color": {"field": "series", "type": "nominal",
              "scale": {"domain": ["SB-0 (cylinder 1)", "SB-2 (cylinder 1)", "SB-0 (cylinder 2)", "SB-2 (cylinder 2)", "SB-1 (cylinder 1)", "SB-3 (cylinder 1)", "SB-1 (cylinder 2)", "SB-3 (cylinder 2)"],
                "range": ["#1a1a1a", "#6e6e6e", "#1a1a1a", "#555555", "#bdbdbd", "#7d7d7d", "#c4c4c4", "#8c8c8c"]},
              "legend": {"orient": "bottom", "columns": 2, "title": null, "symbolType": "M-3,0H3.4", "symbolSize": 100, "symbolStrokeWidth": 1.3, "labelOffset": 19, "columnPadding": 28, "rowPadding": 6, "offset": 22,
                "encode": {"symbols": {"update": {"strokeDash": {"signal": "indexof(datum.value, 'cylinder 2') >= 0 ? (indexof(datum.value, '-0 ') >= 0 ? [1.5, 2.5] : (indexof(datum.value, '-3 ') >= 0 ? [1, 0] : [1.5, 3, 7, 3])) : [1, 0]"}}}}}},
            "strokeDash": {"field": "series", "type": "nominal",
              "scale": {"domain": ["SB-0 (cylinder 1)", "SB-2 (cylinder 1)", "SB-0 (cylinder 2)", "SB-2 (cylinder 2)", "SB-1 (cylinder 1)", "SB-3 (cylinder 1)", "SB-1 (cylinder 2)", "SB-3 (cylinder 2)"],
                "range": [[6, 3], [1, 0], [1.5, 2.5], [7, 3, 1.5, 3], [1, 0], [1, 0], [7, 3, 1.5, 3], [8, 4]]},
              "legend": null}
          }
        },
        {
          "mark": {"type": "line", "opacity": 0},
          "encoding": {
            "y": {"field": "stress", "type": "quantitative", "title": "Compressive stress (ksi)",
              "scale": {"domain": [0, 90], "nice": false},
              "axis": {"orient": "right", "values": [0, 10, 20, 30, 40, 50, 60, 70, 80, 90], "grid": false, "titlePadding": 7, "titleAngle": 270, "titleBaseline": "top", "labelExpr": "format(datum.value * 0.145, '.2~f')"}},
            "detail": {"field": "series"}
          }
        }
      ],
      "resolve": {"scale": {"y": "independent"}}
    }
  ]
}
